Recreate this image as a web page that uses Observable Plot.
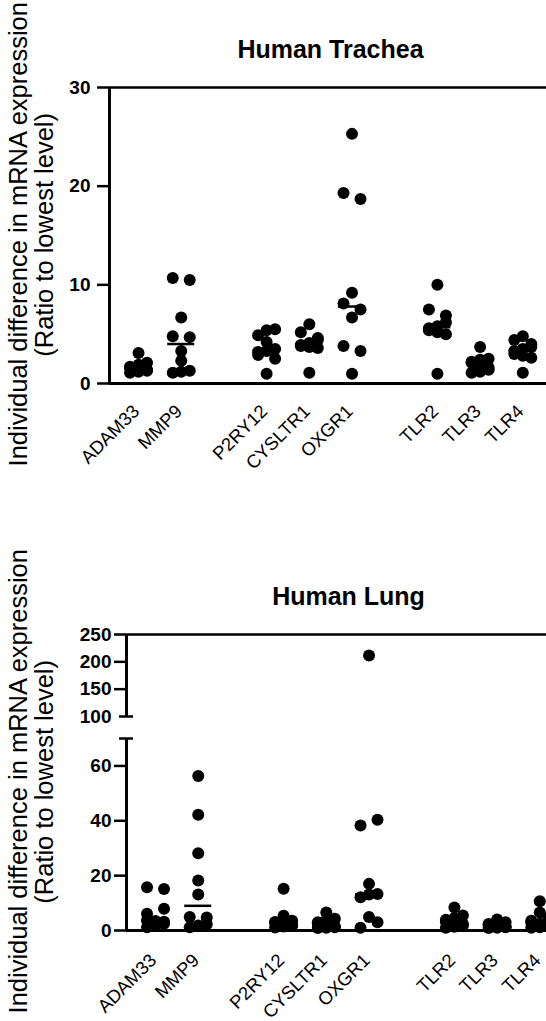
<!DOCTYPE html>
<html>
<head>
<meta charset="utf-8">
<script src="https://cdn.jsdelivr.net/npm/d3@7"></script>
<script src="https://cdn.jsdelivr.net/npm/@observablehq/plot@0.6"></script>
<style>
  html, body { margin: 0; padding: 0; background: #fff; }
  #root { position: relative; width: 546px; height: 1021px; overflow: hidden; }
  #root svg { position: absolute; left: 0; background: transparent; max-width: none; }
  .ytitle { position: absolute; left: 5px; width: 52px; height: 600px; writing-mode: sideways-lr; text-align: center; font-family: "Liberation Sans", Arial, sans-serif; font-size: 25.5px; line-height: 26px; white-space: nowrap; color: #000; }
</style>
</head>
<body>
<div id="root"></div>
<script>
// ---------------- data ----------------
const tissues = ["Human Trachea", "Human Lung"];
const geneGroups = [["ADAM33", "MMP9"], ["P2RY12", "CYSLTR1", "OXGR1"], ["TLR2", "TLR3", "TLR4"]];
const yTitleLines = ["Individual difference in mRNA expression", "(Ratio to lowest level)"];

// Human Trachea (ratio to lowest level)
const tracheaADAM33  = [1.1, 1.2, 1.3, 1.4, 1.5, 1.6, 1.7, 1.9, 2.1, 3.1];
const tracheaMMP9    = [1.1, 1.2, 1.3, 2.3, 3.3, 4.7, 4.8, 6.7, 10.5, 10.7];
const tracheaP2RY12  = [1.0, 2.5, 2.9, 3.2, 3.3, 3.5, 4.2, 4.9, 5.4, 5.5];
const tracheaCYSLTR1 = [1.1, 3.6, 3.7, 3.8, 3.9, 4.1, 4.4, 4.6, 5.2, 6.0];
const tracheaOXGR1   = [1.0, 3.3, 3.8, 6.7, 7.5, 8.1, 9.2, 18.7, 19.3, 25.3];
const tracheaTLR2    = [1.0, 5.0, 5.2, 5.4, 5.6, 5.8, 6.2, 6.9, 7.5, 10.0];
const tracheaTLR3    = [1.1, 1.2, 1.4, 1.6, 1.9, 2.1, 2.2, 2.4, 2.5, 3.7];
const tracheaTLR4    = [1.1, 2.6, 2.8, 3.0, 3.3, 3.5, 3.7, 4.0, 4.4, 4.8];

// Human Lung (ratio to lowest level)
const lungADAM33  = [1.2, 1.8, 2.5, 3.2, 3.5, 3.7, 6.1, 7.9, 15.1, 15.8];
const lungMMP9    = [1.2, 1.8, 2.3, 4.7, 4.9, 13.1, 18.2, 28.2, 42.2, 56.3];
const lungP2RY12  = [1.1, 1.5, 1.8, 2.0, 2.4, 2.9, 3.1, 3.6, 5.4, 15.2];
const lungCYSLTR1 = [0.9, 1.0, 1.2, 1.5, 1.9, 2.4, 3.0, 3.8, 4.3, 6.6];
const lungOXGR1   = [1.0, 3.0, 4.9, 12.1, 13.1, 13.3, 17.0, 38.3, 40.4, 211.6];
const lungTLR2    = [1.0, 1.4, 1.8, 2.4, 3.0, 3.2, 3.9, 4.6, 5.5, 8.4];
const lungTLR3    = [0.9, 1.0, 1.2, 1.4, 1.8, 2.0, 2.4, 2.6, 3.0, 4.0];
const lungTLR4    = [1.0, 1.2, 1.6, 2.0, 2.5, 3.0, 3.6, 4.6, 6.6, 10.7];

const tracheaTicks = [0, 10, 20, 30];
const tracheaDomain = [0, 30];
const lungTicks = [0, 20, 40, 60, 100, 150, 200, 250];
const lungDomain = [0, 70, 100, 250];   // axis broken between 70 and 100
const lungBreak = [70, 100];

// ---------------- layout ----------------
const H = 473, MT = 87, MB = 90;
const frameW = 437;
const xDom = [-0.68, 9.555];
const pxPerUnit = frameW / (xDom[1] - xDom[0]);
const fontFamily = '"Liberation Sans", Arial, sans-serif';

// slot index of each gene, one empty slot between groups
const genes = [], slots = [];
{
  let s = 0;
  geneGroups.forEach((g, gi) => {
    if (gi > 0) s += 1;
    g.forEach(name => { genes.push(name); slots.push(s); s += 1; });
  });
}
const geneRows = genes.map((gene, k) => ({gene, slot: slots[k]}));

// row-based scatter layout (GraphPad-like), offsets in pixels
function swarmOffsets(values, ypx, step = 8.5, rowSpan = 6, maxPerRow = 3) {
  const order = d3.sort(d3.range(values.length), i => values[i]);
  const rows = [];
  for (const i of order) {
    const y = ypx(values[i]);
    const row = rows[rows.length - 1];
    if (row && Math.abs(row.y - y) < rowSpan && row.items.length < maxPerRow) row.items.push(i);
    else rows.push({y, items: [i]});
  }
  const off = new Array(values.length).fill(0);
  rows.forEach((row, k) => {
    const n = row.items.length;
    const items = k % 2 ? row.items.slice().reverse() : row.items;
    items.forEach((i, j) => { off[i] = n === 1 ? 0 : n === 2 ? (j ? step : -step) : (j - 1) * step; });
  });
  return off;
}

function makePanel({title, series, yDomain, yRange, ticks, breakAt, marginLeft, tickPadding, labelDy, titleX}) {
  const ypx = d3.scaleLinear().domain(yDomain).range(yRange);
  const points = [], medians = [];
  series.forEach((values, k) => {
    const off = swarmOffsets(values, ypx);
    values.forEach((v, i) => points.push({gene: genes[k], value: v, x: slots[k] + off[i] / pxPerUnit}));
    medians.push({gene: genes[k], slot: slots[k], median: d3.median(values)});
  });
  const yMin = yDomain[0], yMax = yDomain[yDomain.length - 1];
  const segs = breakAt ? [[yMin, breakAt[0]], [breakAt[1], yMax]] : [[yMin, yMax]];
  const capHalf = 7 / pxPerUnit;
  const medHalf = 13.5 / pxPerUnit;
  const plainTicks = breakAt ? ticks.filter(t => !breakAt.includes(t)) : ticks;
  const capTicks = breakAt ? ticks.filter(t => breakAt.includes(t)) : [];
  const marks = [
    Plot.text([title], {frameAnchor: "top-left", dx: titleX - marginLeft, dy: 57 - MT, textAnchor: "middle", lineAnchor: "bottom", fontSize: 25, fontWeight: "bold", fontFamily, fill: "black"}),
    Plot.ruleY([yMax], {strokeWidth: 2.5, stroke: "black"}),
    Plot.ruleY([yMin], {strokeWidth: 3, stroke: "black"}),
    Plot.ruleX(segs, {x: () => xDom[0], y1: d => d[0], y2: d => d[1], strokeWidth: 3, stroke: "black"}),
    Plot.axisY(plainTicks, {tickSize: 12, tickPadding, strokeWidth: 2.5, fontSize: 19, fontWeight: "bold", fontFamily, tickFormat: d => String(d), label: null}),
    Plot.text(geneRows, {x: "slot", y: () => yMin, text: "gene", rotate: -45, textAnchor: "end", lineAnchor: "bottom", dx: 2, dy: labelDy, fontSize: 18.5, fontFamily, fill: "black"})
  ];
  if (breakAt) {
    marks.push(Plot.ruleY(breakAt, {x1: () => xDom[0] - capHalf, x2: () => xDom[0] + capHalf, strokeWidth: 2.5, stroke: "black"}));
    marks.push(Plot.axisY(capTicks, {tickSize: 0, tickPadding: tickPadding + 12, fontSize: 19, fontWeight: "bold", fontFamily, tickFormat: d => String(d), label: null}));
  }
  marks.push(Plot.dot(points, {x: "x", y: "value", r: 6, fill: "black", stroke: "none"}));
  marks.push(Plot.ruleY(medians, {y: "median", x1: d => d.slot - medHalf, x2: d => d.slot + medHalf, strokeWidth: 2.5, stroke: "black"}));
  const svg = Plot.plot({
    width: marginLeft + frameW, height: H,
    marginLeft, marginRight: 0, marginTop: MT, marginBottom: MB,
    x: {type: "linear", domain: xDom, axis: null},
    y: {type: "linear", domain: yDomain, range: yRange, axis: null},
    style: {background: "transparent", fontFamily, color: "black", overflow: "visible", maxWidth: "none"},
    marks
  });
  d3.select(svg).selectAll('g[aria-label^="y-axis"] text').attr("font-weight", "bold").attr("font-size", 19);
  return svg;
}

const root = document.getElementById("root");
const panelOffset = 547;
const panels = [
  {title: tissues[0],
   series: [tracheaADAM33, tracheaMMP9, tracheaP2RY12, tracheaCYSLTR1, tracheaOXGR1, tracheaTLR2, tracheaTLR3, tracheaTLR4],
   yDomain: tracheaDomain, yRange: [H - MB, MT], ticks: tracheaTicks, breakAt: null, marginLeft: 109, tickPadding: 7, titleX: 330, labelDy: 29},
  {title: tissues[1],
   series: [lungADAM33, lungMMP9, lungP2RY12, lungCYSLTR1, lungOXGR1, lungTLR2, lungTLR3, lungTLR4],
   yDomain: lungDomain, yRange: [H - MB, 191, 169, MT], ticks: lungTicks, breakAt: lungBreak, marginLeft: 126, tickPadding: 3, titleX: 348, labelDy: 31}
];

panels.forEach((p, k) => {
  const top = k * panelOffset;
  const svg = makePanel(p);
  svg.style.top = top + "px";
  svg.style.maxWidth = "none";
  root.appendChild(svg);
  const yt = document.createElement("div");
  yt.className = "ytitle";
  yt.style.top = (top + 234.5 - 300) + "px";
  yTitleLines.forEach((line, j) => {
    if (j) yt.appendChild(document.createElement("br"));
    yt.appendChild(document.createTextNode(line));
  });
  root.appendChild(yt);
});
</script>
</body>
</html>
